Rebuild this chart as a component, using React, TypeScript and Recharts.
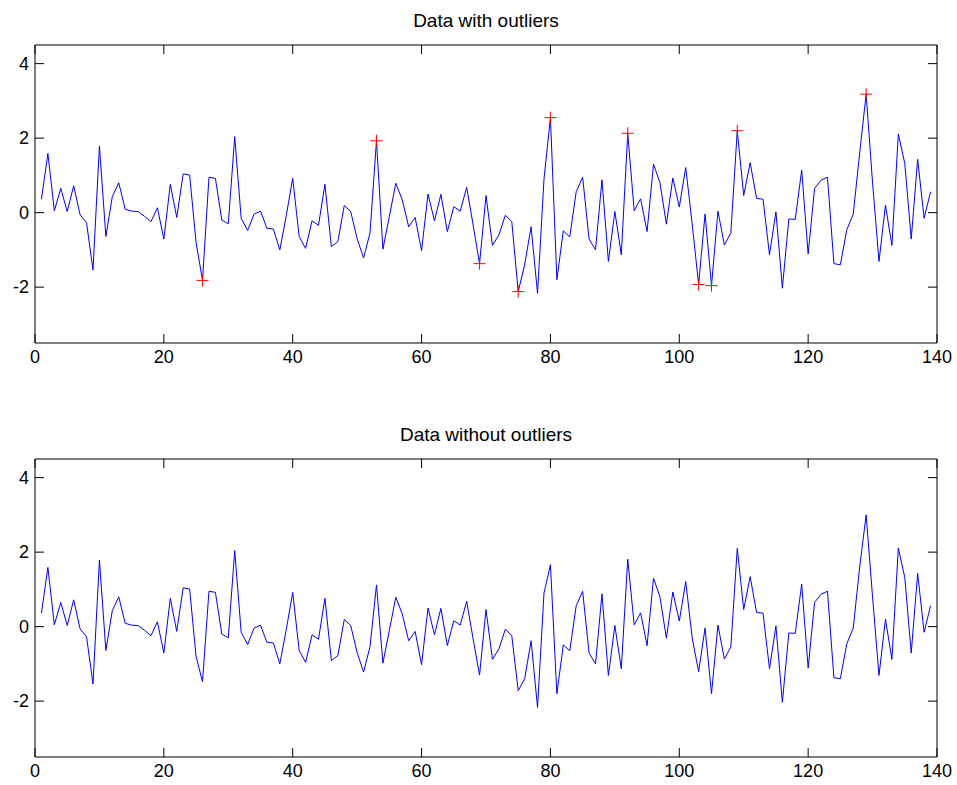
import { ComposedChart, Line, XAxis, YAxis } from "recharts";

// one value per sample, samples 1..139
const rawValues = [
  0.36, 1.59, 0.05, 0.65, 0.03, 0.72, -0.06, -0.27, -1.54, 1.79,
  -0.64, 0.43, 0.8, 0.09, 0.04, 0.03, -0.1, -0.24, 0.13, -0.71,
  0.76, -0.13, 1.04, 1.01, -0.8, -1.82, 0.95, 0.92, -0.2, -0.3,
  2.04, -0.15, -0.48, -0.04, 0.04, -0.42, -0.44, -1.0, -0.08, 0.92,
  -0.64, -0.96, -0.22, -0.34, 0.76, -0.91, -0.78, 0.19, 0.03, -0.7,
  -1.22, -0.54, 1.93, -0.98, -0.1, 0.79, 0.34, -0.38, -0.13, -1.02,
  0.5, -0.22, 0.49, -0.51, 0.16, 0.04, 0.68, -0.33, -1.37, 0.46,
  -0.88, -0.6, -0.07, -0.24, -2.12, -1.4, -0.38, -2.17, 0.9, 2.55,
  -1.8, -0.49, -0.65, 0.56, 0.95, -0.71, -1.0, 0.88, -1.31, 0.03,
  -1.13, 2.13, 0.05, 0.37, -0.51, 1.3, 0.8, -0.31, 0.93, 0.15,
  1.21, -0.3, -1.93, -0.04, -1.96, 0.04, -0.87, -0.54, 2.2, 0.46,
  1.34, 0.38, 0.36, -1.13, 0.02, -2.03, -0.17, -0.18, 1.14, -1.11,
  0.65, 0.87, 0.95, -1.37, -1.4, -0.46, -0.04, 1.6, 3.18, 0.8,
  -1.31, 0.2, -0.88, 2.11, 1.32, -0.71, 1.43, -0.15, 0.56,
];

// samples flagged as outliers, and what they were replaced with
const outlierSamples = [26, 53, 69, 75, 80, 92, 103, 105, 109, 129];
const replacedValues = [-1.48, 1.12, -1.3, -1.72, 1.66, 1.81, -1.21, -1.8, 2.1, 3.0];

const xTicks = [0, 20, 40, 60, 80, 100, 120, 140];
const yTicks = [-2, 0, 2, 4];
const xDomain = [0, 140];
const yDomain = [-3.5, 4.5];

const withOutliers = rawValues.map((v, i) => ({
  x: i + 1,
  y: v,
  outlier: outlierSamples.includes(i + 1) ? v : null,
}));

const withoutOutliers = rawValues.map((v, i) => {
  const k = outlierSamples.indexOf(i + 1);
  return { x: i + 1, y: k >= 0 ? replacedValues[k] : v };
});

const FONT = "'Liberation Sans', Arial, Helvetica, sans-serif";
const FONT_SIZE = 18;
const TICK_LEN = 9;
const CHART_W = 957;
const PLOT_LEFT = 35;
const PLOT_RIGHT = 937;
const PLOT_TOP = 45;
const PLOT_H = 298;

function BottomTick(props: any) {
  const { x, y, payload } = props;
  return (
    <g>
      <line x1={x} y1={y} x2={x} y2={y - TICK_LEN} stroke="#000" />
      <text x={x} y={y + 20} textAnchor="middle" fontSize={FONT_SIZE} fontFamily={FONT} fill="#000">
        {payload.value}
      </text>
    </g>
  );
}

function LeftTick(props: any) {
  const { x, y, payload } = props;
  return (
    <g>
      <line x1={x} y1={y} x2={x + TICK_LEN} y2={y} stroke="#000" />
      <text x={x - 6} y={y + 6} textAnchor="end" fontSize={FONT_SIZE} fontFamily={FONT} fill="#000">
        {payload.value}
      </text>
    </g>
  );
}

function TopTick(props: any) {
  const { x, y } = props;
  return <line x1={x} y1={y} x2={x} y2={y + TICK_LEN} stroke="#000" />;
}

function RightTick(props: any) {
  const { x, y } = props;
  return <line x1={x} y1={y} x2={x - TICK_LEN} y2={y} stroke="#000" />;
}

function PlusMarker(props: any) {
  const { cx, cy, value, index } = props;
  if (value == null || cx == null || cy == null) return <g key={`p-${index}`} />;
  return (
    <g key={`p-${index}`}>
      <line x1={cx - 6} y1={cy} x2={cx + 6} y2={cy} stroke="#ff0000" />
      <line x1={cx} y1={cy - 6} x2={cx} y2={cy + 6} stroke="#ff0000" />
    </g>
  );
}

function Panel({ data, height, bottomAxis, showOutliers }: any) {
  return (
    <ComposedChart
      width={CHART_W}
      height={height}
      data={data}
      margin={{
        top: PLOT_TOP - 1,
        right: CHART_W - PLOT_RIGHT - 1,
        left: 0,
        bottom: height - PLOT_TOP - PLOT_H - bottomAxis,
      }}
    >
      <XAxis
        dataKey="x"
        type="number"
        domain={xDomain}
        ticks={xTicks}
        interval={0}
        height={bottomAxis}
        tickSize={0}
        tickMargin={0}
        tickLine={false}
        axisLine={{ stroke: "#000" }}
        tick={(p: any) => <BottomTick {...p} />}
      />
      <XAxis
        xAxisId="top"
        orientation="top"
        dataKey="x"
        type="number"
        domain={xDomain}
        ticks={xTicks}
        interval={0}
        height={1}
        tickSize={0}
        tickMargin={0}
        tickLine={false}
        axisLine={{ stroke: "#000" }}
        tick={(p: any) => <TopTick {...p} />}
      />
      <YAxis
        type="number"
        domain={yDomain}
        ticks={yTicks}
        interval={0}
        width={PLOT_LEFT}
        tickSize={0}
        tickMargin={0}
        tickLine={false}
        axisLine={{ stroke: "#000" }}
        tick={(p: any) => <LeftTick {...p} />}
      />
      <YAxis
        yAxisId="right"
        orientation="right"
        type="number"
        domain={yDomain}
        ticks={yTicks}
        interval={0}
        width={1}
        tickSize={0}
        tickMargin={0}
        tickLine={false}
        axisLine={{ stroke: "#000" }}
        tick={(p: any) => <RightTick {...p} />}
      />
      {/* invisible twin so the top/right box axes get a series */}
      <Line
        xAxisId="top"
        yAxisId="right"
        dataKey="y"
        stroke="none"
        dot={false}
        activeDot={false}
        isAnimationActive={false}
      />
      <Line
        dataKey="y"
        stroke="#0000ff"
        strokeWidth={1}
        dot={false}
        activeDot={false}
        isAnimationActive={false}
      />
      {showOutliers && (
        <Line
          dataKey="outlier"
          stroke="none"
          dot={(p: any) => <PlusMarker {...p} />}
          activeDot={false}
          isAnimationActive={false}
        />
      )}
    </ComposedChart>
  );
}

const titleStyle: any = {
  position: "absolute",
  left: PLOT_LEFT,
  width: PLOT_RIGHT - PLOT_LEFT,
  textAlign: "center",
  fontFamily: FONT,
  fontSize: 19,
  color: "#000",
};

export default function App() {
  return (
    <div style={{ position: "absolute", left: 0, top: 0, width: 957, height: 785, background: "#fff", overflow: "hidden" }}>
      <div style={{ ...titleStyle, top: 10 }}>Data with outliers</div>
      <div style={{ position: "absolute", left: 0, top: 0 }}>
        <Panel data={withOutliers} height={400} bottomAxis={30} showOutliers />
      </div>
      <div style={{ ...titleStyle, top: 424 }}>Data without outliers</div>
      <div style={{ position: "absolute", left: 0, top: 414 }}>
        <Panel data={withoutOutliers} height={371} bottomAxis={28} showOutliers={false} />
      </div>
    </div>
  );
}
